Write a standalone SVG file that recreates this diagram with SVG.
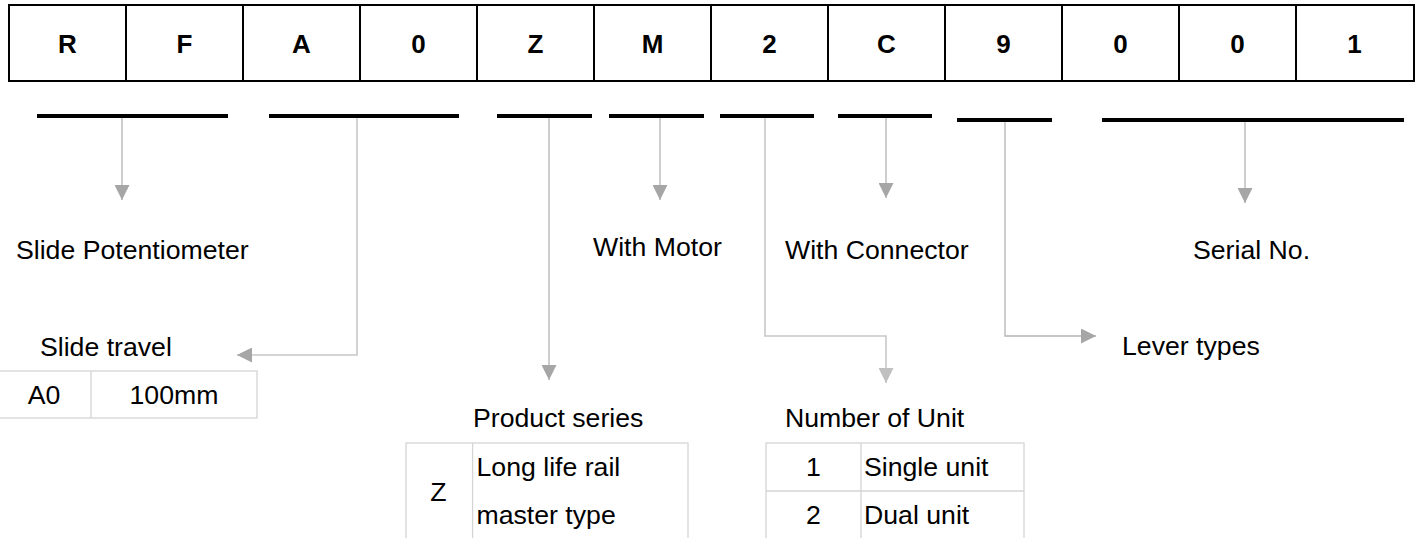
<svg xmlns="http://www.w3.org/2000/svg" width="1421" height="538" viewBox="0 0 1421 538">
<style>
.code{font-family:"Liberation Sans",Arial,sans-serif;font-weight:bold;font-size:26px;fill:#000;text-anchor:middle}
.lbl{font-family:"Liberation Sans",Arial,sans-serif;font-size:26.67px;fill:#000}
.mid{text-anchor:middle}
.cell{fill:none;stroke:#000;stroke-width:2}
.bar{stroke:#000;stroke-width:4}
.tbl{fill:none;stroke:#d4d4d4;stroke-width:1.3}
.con{fill:none;stroke:#b4b4b4;stroke-width:1.3}
.conL{fill:none;stroke:#c8c8c8;stroke-width:1.6}
</style>
<defs>
<marker id="arr" markerUnits="userSpaceOnUse" viewBox="0 0 15 15" refX="15" refY="7.5" markerWidth="15" markerHeight="15" orient="auto"><path d="M0,0 L15,7.5 L0,15 Z" fill="#a6a6a6"/></marker>
<marker id="arrL" markerUnits="userSpaceOnUse" viewBox="0 0 15 15" refX="15" refY="7.5" markerWidth="15" markerHeight="15" orient="auto"><path d="M0,0 L15,7.5 L0,15 Z" fill="#c0c0c0"/></marker>
</defs>
<rect width="1421" height="538" fill="#fff"/>
<g id="code">
<rect class="cell" x="9" y="5" width="1405" height="76"/>
<path class="cell" d="M126,5V81M243,5V81M360,5V81M477,5V81M594,5V81M711,5V81M828,5V81M945,5V81M1062,5V81M1179,5V81M1296,5V81"/>
<text class="code" x="67.5" y="53">R</text>
<text class="code" x="184.5" y="53">F</text>
<text class="code" x="301.5" y="53">A</text>
<text class="code" x="418.5" y="53">0</text>
<text class="code" x="535.5" y="53">Z</text>
<text class="code" x="652.5" y="53">M</text>
<text class="code" x="769.5" y="53">2</text>
<text class="code" x="886.5" y="53">C</text>
<text class="code" x="1003.5" y="53">9</text>
<text class="code" x="1120.5" y="53">0</text>
<text class="code" x="1237.5" y="53">0</text>
<text class="code" x="1354.5" y="53">1</text>
</g>
<g id="bars">
<line class="bar" x1="37" y1="116" x2="228" y2="116"/>
<line class="bar" x1="269" y1="116" x2="459" y2="116"/>
<line class="bar" x1="497" y1="116" x2="592" y2="116"/>
<line class="bar" x1="609" y1="116" x2="704" y2="116"/>
<line class="bar" x1="720" y1="116" x2="814" y2="116"/>
<line class="bar" x1="838" y1="116" x2="932" y2="116"/>
<line class="bar" x1="957" y1="120" x2="1052" y2="120"/>
<line class="bar" x1="1102" y1="120" x2="1404" y2="120"/>
</g>
<g id="connectors">
<path class="con" d="M122,118V200" marker-end="url(#arr)"/>
<path class="conL" d="M357,118V355H237" marker-end="url(#arr)"/>
<path class="con" d="M549,118V380" marker-end="url(#arr)"/>
<path class="con" d="M660,118V200" marker-end="url(#arr)"/>
<path class="conL" d="M765,118V336H886V383" marker-end="url(#arrL)"/>
<path class="con" d="M886,118V198" marker-end="url(#arr)"/>
<path class="con" d="M1005,122V336H1096" marker-end="url(#arr)"/>
<path class="con" d="M1245,122V203" marker-end="url(#arr)"/>
</g>
<g id="slide-potentiometer"><text class="lbl" x="16" y="259">Slide Potentiometer</text></g>
<g id="with-motor"><text class="lbl" x="593" y="256">With Motor</text></g>
<g id="with-connector"><text class="lbl" x="785" y="258.5">With Connector</text></g>
<g id="serial-no"><text class="lbl" x="1193" y="259">Serial No.</text></g>
<g id="lever-types"><text class="lbl" x="1122" y="355">Lever types</text></g>
<g id="slide-travel">
<text class="lbl" x="40" y="355.5">Slide travel</text>
<rect class="tbl" x="-1" y="371" width="258" height="47"/>
<line class="tbl" x1="91" y1="371" x2="91" y2="418"/>
<text class="lbl mid" x="44" y="404">A0</text>
<text class="lbl mid" x="174" y="404">100mm</text>
</g>
<g id="product-series">
<text class="lbl" x="473" y="426.7">Product series</text>
<rect class="tbl" x="406" y="443" width="282" height="110"/>
<line class="tbl" x1="472.6" y1="443" x2="472.6" y2="553"/>
<text class="lbl mid" x="438.5" y="500.7">Z</text>
<text class="lbl" x="476.5" y="475.7">Long life rail</text>
<text class="lbl" x="476.5" y="524">master type</text>
</g>
<g id="number-of-unit">
<text class="lbl" x="785" y="426.7">Number of Unit</text>
<rect class="tbl" x="766" y="443" width="258" height="110"/>
<line class="tbl" x1="861" y1="443" x2="861" y2="553"/>
<line class="tbl" x1="766" y1="491" x2="1024" y2="491"/>
<text class="lbl mid" x="813.5" y="476">1</text>
<text class="lbl" x="864" y="476">Single unit</text>
<text class="lbl mid" x="813.5" y="524">2</text>
<text class="lbl" x="864" y="524">Dual unit</text>
</g>
</svg>
